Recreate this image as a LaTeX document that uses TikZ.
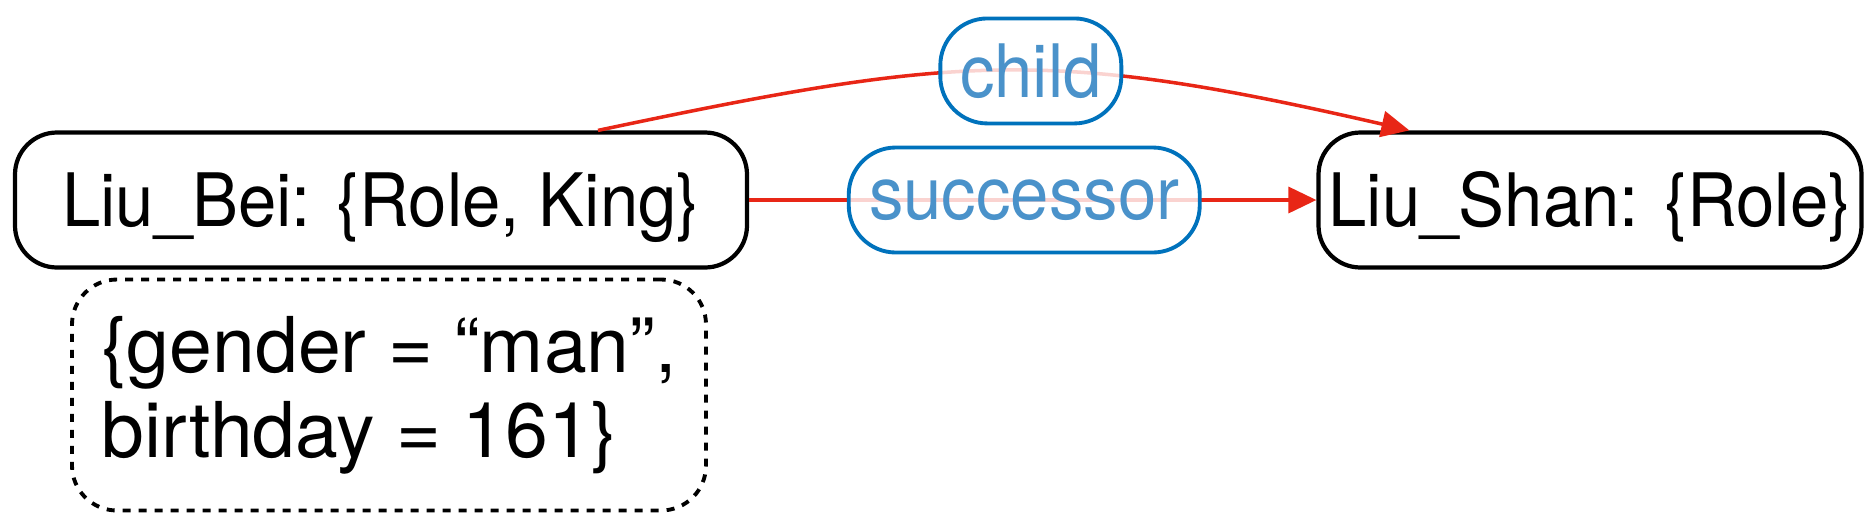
\documentclass[tikz,border=0pt]{standalone}
\usepackage{fontspec}
\usepackage{graphicx}
\setmainfont{TeX Gyre Heros}
\usetikzlibrary{arrows.meta}
\definecolor{relred}{RGB}{232,38,22}
\definecolor{lblblue}{RGB}{0,114,188}
\definecolor{lbltext}{RGB}{74,146,202}
\newcommand\talltext[1]{\scalebox{1}[1.07]{#1}}
\tikzset{
	entity/.style={draw, line width=1.2pt, rounded corners=0.42cm, minimum height=1.35cm, inner sep=0pt, text height=5.3mm, text depth=0pt, font=\fontsize{19.6}{23}\selectfont},
	attrbox/.style={draw, dash pattern=on 0.8mm off 0.8mm, line width=1.1pt, rounded corners=0.45cm, minimum width=6.34cm, minimum height=2.31cm, inner sep=0pt, align=left, font=\fontsize{21.9}{24.1}\selectfont},
	rel/.style={draw=relred, line width=1pt, -{Triangle[length=2.8mm,width=2.6mm]}},
	rellabel/.style={draw=lblblue, line width=1.1pt, rounded corners=0.47cm, fill=white, fill opacity=0.8, text opacity=1, text=lbltext, minimum height=1.05cm, inner sep=0pt, font=\fontsize{19.6}{23}\selectfont}
}

\begin{document}
\begin{tikzpicture}
	\useasboundingbox (0,0) rectangle (18.76,5.24);

	% Entities
	\node[entity, minimum width=7.32cm] (bei) at (3.81,3.24) {\talltext{Liu\_Bei: \{Role, King\}}};
	\node[entity, minimum width=5.43cm] (shan) at (15.90,3.24) {\talltext{Liu\_Shan: \{Role\}}};

	% Properties of Liu_Bei
	\node[attrbox] (attr) at (3.89,1.29) {\{gender = “man”,\\birthday = 161\}};

	% Relations
	\draw[rel] (bei.east) -- node[rellabel, minimum width=3.51cm, pos=0.485] (succ) {\talltext{successor}} (shan.west);
	\draw[rel] ([xshift=2.17cm]bei.north) .. controls +(3.6,0.76) and +(-3.6,0.83) .. ([xshift=0.93cm]shan.north west)
		node[rellabel, minimum width=1.81cm, pos=0.54] (chld) {\talltext{child}};
\end{tikzpicture}
\end{document}
